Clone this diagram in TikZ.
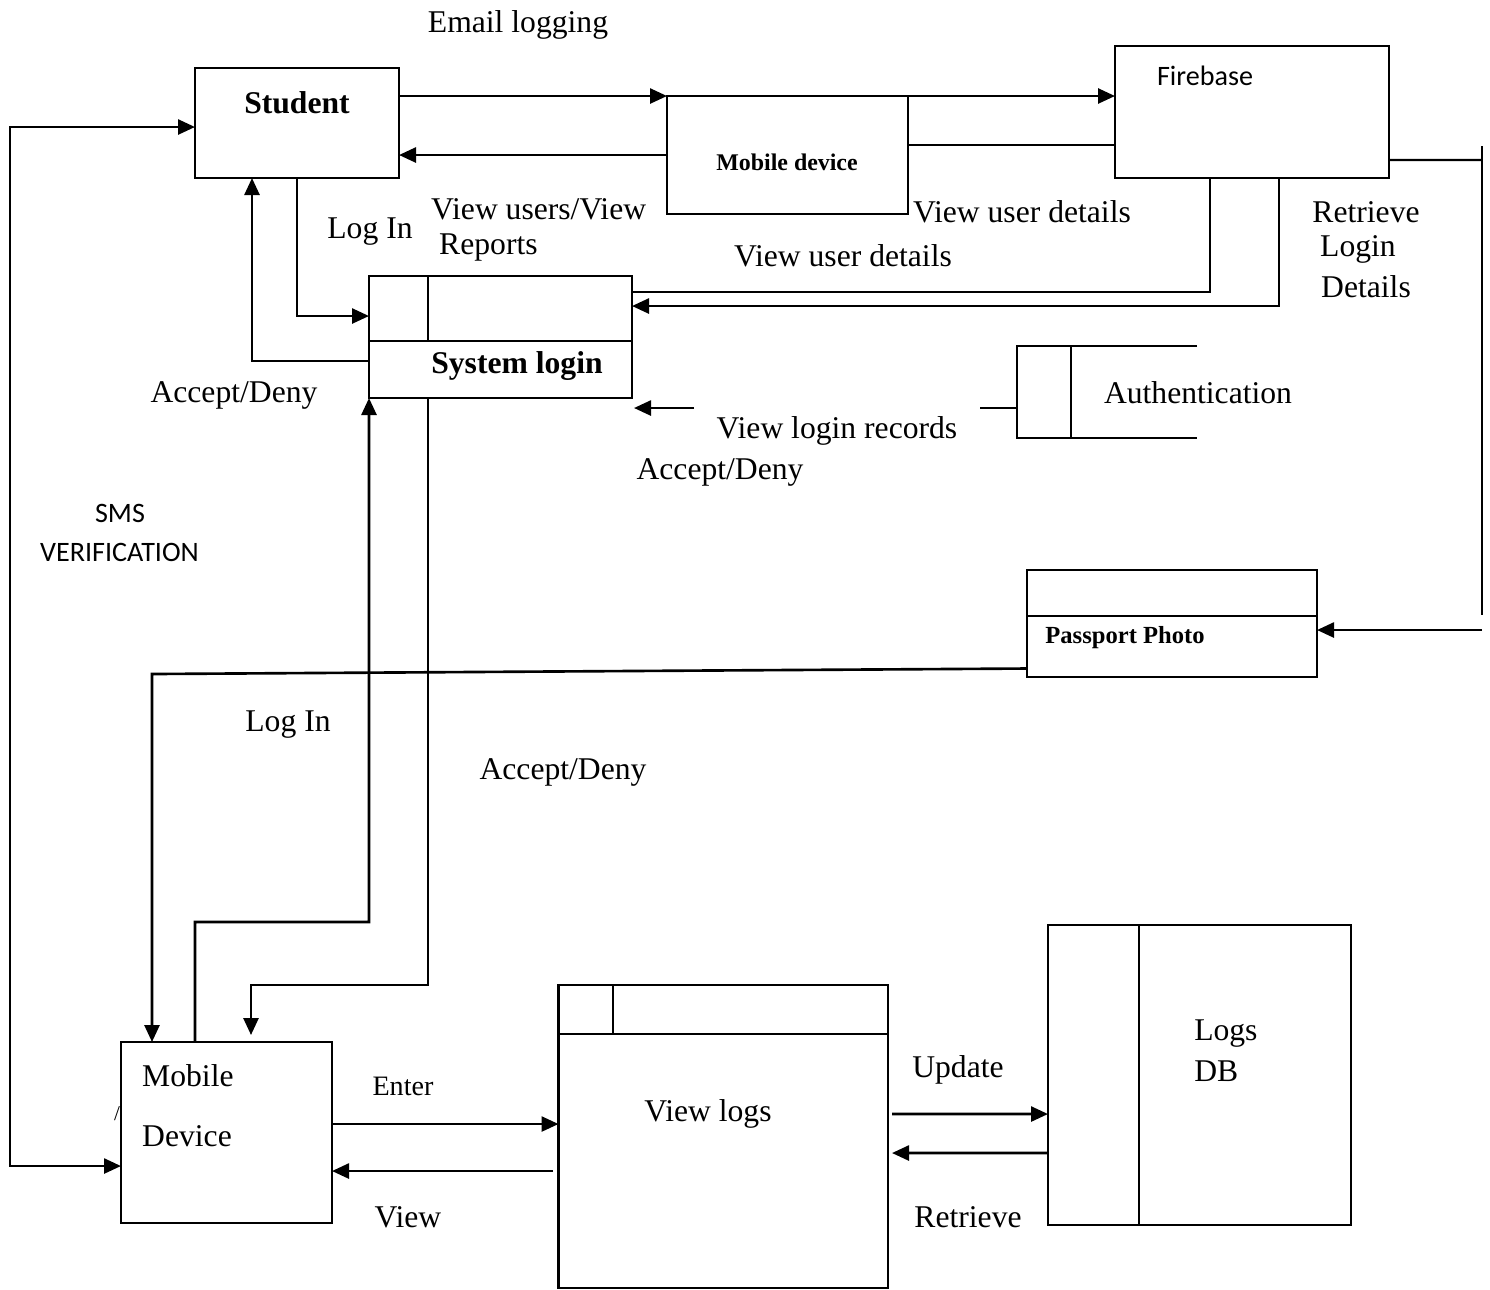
\documentclass[tikz,border=0pt]{standalone}
\usepackage{fontspec}
\setmainfont{Liberation Serif}
\newfontfamily\calibri{Carlito}
\usetikzlibrary{arrows.meta}

\tikzset{
  >={Triangle[length=0.17cm,width=0.15cm]},
  box/.style={draw, line width=0.7pt, inner sep=0pt, outer sep=0pt},
  flow/.style={->, line width=0.75pt},
  txt/.style={inner sep=0pt, yshift=-0.35mm, font=\fontsize{9}{11}\selectfont},
  stxt/.style={inner sep=0pt, font=\fontsize{8}{10}\calibri},
}

\begin{document}
\begin{tikzpicture}[line width=0.7pt]
    \useasboundingbox (0,0) rectangle (14.90,-12.89);

    % Processes and stores
    \node[box, minimum width=2.04cm, minimum height=1.10cm] (student) at (2.97,-1.23) {};
    \node[box, minimum width=2.41cm, minimum height=1.18cm] (mobdev) at (7.875,-1.55) {};
    \node[box, minimum width=2.74cm, minimum height=1.32cm] (firebase) at (12.52,-1.12) {};
    \node[box, minimum width=2.63cm, minimum height=1.22cm] (syslogin) at (5.005,-3.37) {};
    \node[box, minimum width=2.90cm, minimum height=1.07cm] (passport) at (11.72,-6.235) {};
    \node[box, minimum width=2.11cm, minimum height=1.81cm] (mobile) at (2.265,-11.325) {};
    \node[box, minimum width=3.295cm, minimum height=3.03cm] (viewlogs) at (7.2325,-11.365) {};
    \node[box, minimum width=3.03cm, minimum height=3.00cm] (logsdb) at (11.995,-10.75) {};

    % Inner divisions
    \draw (syslogin.west |- 0,-3.41) -- (syslogin.east |- 0,-3.41);
    \draw (4.28,-2.76) -- (4.28,-3.41);
    \draw (passport.west |- 0,-6.16) -- (passport.east |- 0,-6.16);
    \draw (viewlogs.west |- 0,-10.34) -- (viewlogs.east |- 0,-10.34);
    \draw (6.13,-9.85) -- (6.13,-10.34);
    \draw (11.39,-9.25) -- (11.39,-12.25);

    % Authentication store (open box)
    \draw (11.97,-3.46) -- (10.17,-3.46) -- (10.17,-4.38) -- (11.97,-4.38);
    \draw (10.71,-3.46) -- (10.71,-4.38);
    \coordinate (authstub) at (9.80,-4.08);
    \draw (authstub) -- (10.17,-4.08);

    % Top flows
    \draw[flow] (student.east |- mobdev.north) -- (mobdev.north west);
    \draw[flow] (mobdev.west) -- (mobdev.west -| student.east);
    \draw[flow] (mobdev.north east) -- (mobdev.north east -| firebase.west);
    \coordinate (mf) at ([yshift=1mm]mobdev.east);
    \draw (mf) -- (mf -| firebase.west);

    % Firebase to system login
    \draw ([xshift=-4.2mm]firebase.south) |- ([yshift=-1.6mm]syslogin.north east);
    \draw[flow] ([xshift=2.7mm]firebase.south) |- ([yshift=-3mm]syslogin.north east);

    % Firebase to passport photo
    \coordinate (bustop) at (14.82,-1.46);
    \coordinate (bus) at (14.82,-6.30);
    \draw ([yshift=-4.8mm]firebase.east) -- (bustop |- 0,-1.60);
    \draw (bustop) -- (14.82,-6.15);
    \draw[flow] (bus) -- (bus -| passport.east);

    % Student and system login
    \draw[flow] (student.south) |- ([yshift=-4mm]syslogin.north west);
    \draw[flow] ([yshift=-2.4mm]syslogin.west) -| ([xshift=-4.5mm]student.south);
    \coordinate (vlr) at (6.94,-4.08);
    \draw[flow] (vlr) -- (6.34,-4.08);

    % Passport photo down to mobile device
    \coordinate (pp) at (1.52,-6.74);
    \draw[flow] ([yshift=-4.5mm]passport.west) -- (pp) -- (pp |- mobile.north);

    % Mobile device and system login
    \draw[flow] ([xshift=-3.15mm]mobile.north) |- ++(1.74,1.20) -- (syslogin.south west);
    \draw[flow] ([xshift=5.9mm]syslogin.south west) -- ++(0,-5.87) -| ([xshift=2.45mm,yshift=0.7mm]mobile.north);

    % SMS verification loop
    \draw[<->, line width=0.75pt]
        ([yshift=-0.4mm]student.west) -| (0.10,-6) |- ([yshift=-3.35mm]mobile.west);

    % Bottom flows
    \coordinate (en) at ([yshift=0.85mm]mobile.east);
    \draw[flow] (en) -- (en -| viewlogs.west);
    \coordinate (vw) at (5.53,-11.71);
    \draw[flow] (vw) -- (vw -| mobile.east);
    \draw[flow] ([xshift=0.4mm,yshift=2.25mm]viewlogs.east) -- ([yshift=-3.9mm]logsdb.west);
    \draw[flow] ([yshift=-7.8mm]logsdb.west) -- ([xshift=0.4mm,yshift=-1.65mm]viewlogs.east);

    % Labels
    \node[txt] (email) at (5.18,-0.21) {Email logging};
    \node[txt, font=\fontsize{9}{11}\selectfont\bfseries] (studenttxt) at (2.97,-0.99) {Student};
    \node[txt, font=\fontsize{6.8}{8}\selectfont\bfseries] (mobdevtxt) at (7.87,-1.59) {Mobile device};
    \node[stxt] (firebasetxt) at (12.05,-0.76) {Firebase};
    \node[txt] (login1) at (3.70,-2.28) {Log In};
    \node[txt, anchor=west] (viewusers) at (4.30,-2.06) {View users/View};
    \node[txt, anchor=west] (reports) at (4.38,-2.44) {Reports};
    \node[txt] (details1) at (10.22,-2.08) {View user details};
    \node[txt] (details2) at (8.43,-2.52) {View user details};
    \node[txt] (retr1) at (13.66,-2.09) {Retrieve};
    \node[txt] (retr2) at (13.58,-2.46) {Login};
    \node[txt] (retr3) at (13.66,-2.83) {Details};
    \node[txt, font=\fontsize{9}{11}\selectfont\bfseries] (sysltxt) at (5.17,-3.62) {System login};
    \node[txt] (acc1) at (2.34,-3.92) {Accept/Deny};
    \node[txt] (authtxt) at (11.98,-3.89) {Authentication};
    \node[txt] (vlrtxt) at (8.37,-4.27) {View login records};
    \node[txt] (acc2) at (7.20,-4.69) {Accept/Deny};
    \node[stxt] (sms1) at (1.20,-5.13) {SMS};
    \node[stxt] (sms2) at (1.195,-5.52) {VERIFICATION};
    \node[txt, font=\fontsize{7}{9}\selectfont\bfseries] (pptxt) at (11.25,-6.34) {Passport Photo};
    \node[txt] (login2) at (2.88,-7.21) {Log In};
    \node[txt] (acc3) at (5.63,-7.69) {Accept/Deny};
    \node[txt, anchor=west] (mob1) at (1.41,-10.72) {Mobile};
    \node[txt, anchor=west] (mob2) at (1.41,-11.33) {Device};
    \node[txt, font=\fontsize{6}{7}\selectfont] (slash) at (1.17,-11.10) {/};
    \node[txt, font=\fontsize{8}{10}\selectfont] (entertxt) at (4.03,-10.83) {Enter};
    \node[txt] (viewtxt) at (4.08,-12.14) {View};
    \node[txt] (vltxt) at (7.08,-11.10) {View logs};
    \node[txt] (updtxt) at (9.58,-10.66) {Update};
    \node[txt] (rettxt) at (9.68,-12.14) {Retrieve};
    \node[txt, anchor=west] (logs1) at (11.93,-10.30) {Logs};
    \node[txt, anchor=west] (logs2) at (11.93,-10.68) {DB};
\end{tikzpicture}
\end{document}
